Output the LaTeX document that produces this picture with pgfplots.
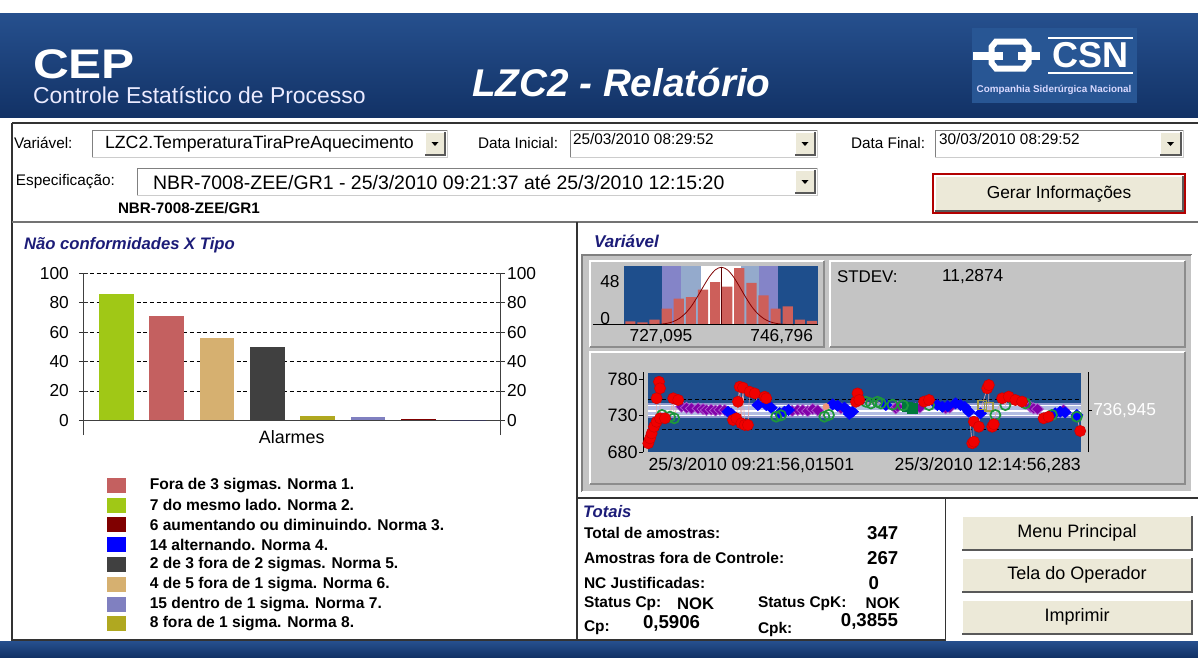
\documentclass[border=0pt]{standalone}
\usepackage{fontspec}
\setmainfont{Liberation Sans}
\usepackage{pgfplots}
\pgfplotsset{compat=1.18}
\definecolor{hdrtop}{RGB}{38,80,142}
\definecolor{hdrbot}{RGB}{18,50,102}
\definecolor{navy}{RGB}{28,28,120}
\definecolor{panelgrey}{RGB}{196,196,196}
\definecolor{btnfill}{RGB}{236,233,216}
\definecolor{cblue}{RGB}{30,78,140}
\definecolor{cN1}{RGB}{196,96,96}
\definecolor{cN2}{RGB}{160,200,22}
\definecolor{cN3}{RGB}{128,0,0}
\definecolor{cN4}{RGB}{0,0,255}
\definecolor{cN5}{RGB}{64,64,64}
\definecolor{cN6}{RGB}{214,176,112}
\definecolor{cN7}{RGB}{128,128,192}
\definecolor{cN8}{RGB}{176,168,32}
\definecolor{hlav}{RGB}{132,132,200}
\definecolor{hsteel}{RGB}{148,170,204}
\definecolor{histbar}{RGB}{205,95,90}
\definecolor{cred}{RGB}{240,0,0}
\definecolor{cpurple}{RGB}{130,0,170}
\definecolor{cpurpleb}{RGB}{175,95,205}
\definecolor{cgreen}{RGB}{30,150,60}
\definecolor{colive}{RGB}{165,155,70}
\definecolor{cdkgreen}{RGB}{0,120,60}
\definecolor{csalmon}{RGB}{240,150,120}
\definecolor{ctrace}{RGB}{230,165,165}
\definecolor{band1}{RGB}{140,150,205}
\definecolor{band2}{RGB}{178,188,226}
\definecolor{logobg}{RGB}{40,86,148}
\newcommand{\fs}[1]{\fontsize{#1}{#1}\selectfont}
\newcommand{\field}[4]{%
  \fill[white] (#1,#2) rectangle (#3,#4);
  \draw[black!50, line width=0.75pt] (#1,#4) -- (#1,#2) -- (#3,#2);
  \draw[black!20, line width=0.75pt] (#3,#2) -- (#3,#4) -- (#1,#4);}
\newcommand{\btn}[4]{%
  \fill[btnfill] (#1,#2) rectangle (#3,#4);
  \draw[white, line width=0.75pt] (#1,#4) -- (#1,#2) -- (#3,#2);
  \draw[black!65, line width=1pt] (#3,#2) -- (#3,#4) -- (#1,#4);}
\newcommand{\raisedbox}[4]{%
  \fill[panelgrey] (#1,#2) rectangle (#3,#4);
  \draw[white, line width=0.9pt] (#1,#4) -- (#1,#2) -- (#3,#2);
  \draw[black!45, line width=0.9pt] (#3,#2) -- (#3,#4) -- (#1,#4);}
\newcommand{\arrowdown}[2]{\fill[black] ({#1-3.5},{#2-1.5}) -- ({#1+3.5},{#2-1.5}) -- (#1,{#2+2.5}) -- cycle;}
\begin{document}
\begin{tikzpicture}
\useasboundingbox (0,0) rectangle (898.5pt,-492.75pt);
\begin{scope}[x=0.75pt,y=-0.75pt, every node/.style={inner sep=0pt, outer sep=0pt}]
% background
\fill[white] (0,0) rectangle (1198,657);
\shade[top color=hdrtop, bottom color=hdrbot] (0,13) rectangle (1198,117);
\shade[top color=hdrtop, bottom color=hdrbot] (0,641) rectangle (1198,657);
% header texts
\node[anchor=base west, white, font=\bfseries\fs{31}] at (33,78.3) {\scalebox{1.2}[1]{CEP}};
\node[anchor=base west, white!92!blue, font=\fs{17.2}] at (33,103.3) {Controle Estatístico de Processo};
\node[anchor=base west, white, font=\bfseries\itshape\fs{29}] at (472,96.7) {LZC2 - Relatório};
% logo
\fill[logobg] (972,28) rectangle (1137,103);
\draw[white, line width=4.5pt] (996,41.5) -- (1024,41.5) -- (1028.5,47) -- (1028.5,63) -- (1024,68.5) -- (996,68.5) -- (991.5,63) -- (991.5,47) -- cycle;
\fill[white] (973,51.5) rectangle (1003,59.5);
\fill[white] (1018,51.5) rectangle (1040,59.5);
\fill[logobg] (1003,47) rectangle (1017,64);
\fill[white] (1048,36.5) rectangle (1133,39);
\fill[white] (1048,71.5) rectangle (1133,74);
\node[anchor=center, white, font=\bfseries\fs{27}] at (1090.5,55.5) {CSN};
\node[anchor=center, white!85!blue, font=\bfseries\fs{7.4}] at (1054,90) {Companhia Siderúrgica Nacional};
% frames
\draw[black!80, line width=0.9pt] (12,123) -- (1198,123);
\draw[black!80, line width=0.9pt] (12,123) -- (12,640) -- (577,640);
\draw[black!55, line width=1.6pt] (12,222) -- (1198,222);
\draw[black!80, line width=0.9pt] (577,222) -- (577,640) -- (945.7,640) -- (945.7,498);
\draw[black!80, line width=0.9pt] (577,498) -- (1198,498);
% top controls
\node[anchor=west, font=\fs{11.5}] at (14,143) {Variável:};
\field{92}{130}{447}{157}
\btn{425}{132}{445}{155}\arrowdown{435}{143.5}
\node[anchor=west, font=\fs{13.3}] at (105,143.5) {LZC2.TemperaturaTiraPreAquecimento};
\node[anchor=west, font=\fs{11.5}] at (478,143) {Data Inicial:};
\field{570}{130}{817}{157}
\btn{795}{132}{815}{155}\arrowdown{805}{143.5}
\node[anchor=west, font=\fs{11.5}] at (573,139.5) {25/03/2010 08:29:52};
\node[anchor=west, font=\fs{11.5}] at (851,143) {Data Final:};
\field{935}{130}{1183}{157}
\btn{1160}{132}{1181}{155}\arrowdown{1170.5}{143.5}
\node[anchor=west, font=\fs{11.5}] at (939,139.5) {30/03/2010 08:29:52};
\node[anchor=west, font=\fs{11.5}] at (16,182) {Especificação:};
\field{137}{168}{817}{195}
\btn{795}{170}{815}{193}\arrowdown{805}{181.5}
\node[anchor=west, font=\fs{14.6}] at (153,182) {NBR-7008-ZEE/GR1 - 25/3/2010 09:21:37 até 25/3/2010 12:15:20};
\node[anchor=west, font=\bfseries\fs{11.4}] at (118,208) {NBR-7008-ZEE/GR1};
\draw[red!70!black, line width=0.9pt] (933,174) rectangle (1185,213);
\btn{935}{176}{1183}{211}
\node[anchor=center, font=\fs{13}] at (1059,194) {Gerar Informações};
% left panel
\node[anchor=west, navy, font=\bfseries\itshape\fs{12.5}] at (24,245) {Não conformidades X Tipo};
\foreach \c/\txt [count=\i from 0] in {cN1/Fora de 3 sigmas. Norma 1., cN2/7 do mesmo lado. Norma 2., cN3/6 aumentando ou diminuindo. Norma 3., cN4/14 alternando. Norma 4., cN5/2 de 3 fora de 2 sigmas. Norma 5., cN6/4 de 5 fora de 1 sigma. Norma 6., cN7/15 dentro de 1 sigma. Norma 7., cN8/8 fora de 1 sigma. Norma 8.}{
  \fill[\c] (106.5,{477.8+19.81*\i}) rectangle (125.5,{492.8+19.81*\i});
  \node[anchor=west, font=\bfseries\fs{11.7}] at (149.8,{485.3+19.81*\i}) {\txt};
}
% right panel
\node[anchor=west, navy, font=\bfseries\itshape\fs{12.8}] at (594,241.7) {Variável};
\fill[panelgrey] (582,255) rectangle (1192,492);
\draw[black!50, line width=0.9pt] (582,492) -- (582,255) -- (1192,255);
\draw[white, line width=0.9pt] (1192,255) -- (1192,492) -- (582,492);
\raisedbox{590}{261}{824}{347}
\raisedbox{830}{261}{1185}{347}
\raisedbox{590}{352}{1185}{484}
\node[anchor=west, font=\fs{12.7}] at (837,276.7) {STDEV:};
\node[anchor=west, font=\fs{13}] at (942,276.7) {11,2874};
% totais
\node[anchor=west, navy, font=\bfseries\itshape\fs{12.5}] at (583,511.7) {Totais};
\node[anchor=west, font=\bfseries\fs{11.6}] at (584,533.3) {Total de amostras:};
\node[anchor=east, font=\bfseries\fs{14}] at (898.3,533) {347};
\node[anchor=west, font=\bfseries\fs{11.6}] at (584,558.3) {Amostras fora de Controle:};
\node[anchor=east, font=\bfseries\fs{14}] at (898.3,558) {267};
\node[anchor=west, font=\bfseries\fs{11.6}] at (584,583.3) {NC Justificadas:};
\node[anchor=west, font=\bfseries\fs{14}] at (868.6,583) {0};
\node[anchor=west, font=\bfseries\fs{11.6}] at (584,604) {Status Cp:};
\node[anchor=west, font=\bfseries\fs{12.5}] at (677,604) {NOK};
\node[anchor=west, font=\bfseries\fs{11.6}] at (758,603.5) {Status CpK:};
\node[anchor=east, font=\bfseries\fs{11.6}] at (900,603.5) {NOK};
\node[anchor=west, font=\bfseries\fs{11.6}] at (584,628) {Cp:};
\node[anchor=west, font=\bfseries\fs{14}] at (643,623) {0,5906};
\node[anchor=west, font=\bfseries\fs{11.6}] at (758,629) {Cpk:};
\node[anchor=east, font=\bfseries\fs{14}] at (898,621.5) {0,3855};
% buttons
\btn{962}{516}{1192}{550}
\node[anchor=center, font=\fs{13.5}] at (1077,533) {Menu Principal};
\btn{962}{558}{1192}{592}
\node[anchor=center, font=\fs{13.5}] at (1077,575) {Tela do Operador};
\btn{962}{600}{1192}{634}
\node[anchor=center, font=\fs{13.5}] at (1077,617) {Imprimir};
\end{scope}

% ---------------- bar chart ----------------
\begin{axis}[
  at={(62.4pt,-326.25pt)}, anchor=south west,
  scale only axis, width=312.75pt, height=121.275pt,
  xmin=-0.66, xmax=7.63, ymin=-10, ymax=100,
  axis line style={draw=none},
  xtick=\empty, ytick={0,20,40,60,80,100},
  tick align=center, major tick length=6.6pt,
  tick style={black!80, line width=0.6pt},
  ymajorgrids, major grid style={black, dash pattern=on 3pt off 2pt, line width=0.6pt},
  yticklabel style={font=\fs{13}, anchor=east, inner sep=0pt, xshift=-7.3pt},
  /pgf/number format/assume math mode=true,
  clip=false,
]
\draw[black!75, line width=0.9pt] (axis cs:-0.66,0) -- (axis cs:7.63,0);
\draw[black!75, line width=0.9pt] (rel axis cs:0,0) -- (rel axis cs:0,1);
\draw[black!75, line width=0.9pt] (rel axis cs:1,0) -- (rel axis cs:1,1);
\addplot[ybar, bar width=26.1pt, bar shift=0pt, fill=cN2, draw=none] coordinates {(0,86)};
\addplot[ybar, bar width=26.1pt, bar shift=0pt, fill=cN1, draw=none] coordinates {(1,71)};
\addplot[ybar, bar width=26.1pt, bar shift=0pt, fill=cN6, draw=none] coordinates {(2,56)};
\addplot[ybar, bar width=26.1pt, bar shift=0pt, fill=cN5, draw=none] coordinates {(3,50)};
\addplot[ybar, bar width=26.1pt, bar shift=0pt, fill=cN8, draw=none] coordinates {(4,3)};
\addplot[ybar, bar width=26.1pt, bar shift=0pt, fill=cN7, draw=none] coordinates {(5,2)};
\addplot[ybar, bar width=26.1pt, bar shift=0pt, fill=cN3, draw=none] coordinates {(6,1)};
\addplot[ybar, bar width=26.1pt, bar shift=0pt, fill=cN4, draw=none] coordinates {(7,0)};
\node[font=\fs{13.4}, anchor=center, inner sep=0pt] at (rel axis cs:0.5,0) [yshift=-1.5pt] {Alarmes};
\end{axis}
\begin{axis}[
  at={(62.4pt,-326.25pt)}, anchor=south west,
  scale only axis, width=312.75pt, height=121.275pt,
  xmin=-0.66, xmax=7.63, ymin=-10, ymax=100,
  axis line style={draw=none},
  xtick=\empty, ytick={0,20,40,60,80,100},
  major tick length=0pt, yticklabel pos=right,
  yticklabel style={font=\fs{13}, anchor=west, inner sep=0pt, xshift=5pt},
  /pgf/number format/assume math mode=true,
]
\end{axis}

% ---------------- histogram ----------------
\begin{axis}[
  at={(468.225pt,-243.525pt)}, anchor=south west,
  scale only axis, width=145.275pt, height=43.8pt,
  xmin=0.5, xmax=16.5, ymin=0, ymax=54.6,
  axis line style={draw=none}, major tick length=0pt,
  axis background/.style={fill=cblue},
  xtick={3.53,13.5}, xticklabels={{727,095},{746,796}},
  ytick={6.2,40.6}, yticklabels={0,48},
  xticklabel style={font=\fs{13}, anchor=north, inner sep=0pt, yshift=-3.5pt},
  yticklabel style={font=\fs{13}, anchor=west, inner sep=0pt, xshift=-18.2pt},
  clip=false,
]
\fill[hlav] (axis cs:3.58,0) rectangle (axis cs:13.19,54.6);
\fill[hsteel] (axis cs:5.22,0) rectangle (axis cs:11.6,54.6);
\fill[white] (axis cs:6.82,0) rectangle (axis cs:10.17,54.6);
\addplot[ybar, bar width=0.84, bar shift=0pt, fill=histbar, draw=none] coordinates {
 (1,3.1) (2,2.2) (3,4.7) (4,15.0) (5,24.3) (6,25.9) (7,32.8) (8,39.9)
 (9,35.6) (10,53.0) (11,39.0) (12,27.5) (13,15.0) (14,17.2) (15,4.7) (16,3.7)};
\addplot[cN3, line width=0.6pt, smooth] coordinates {
 (2.52,0.07) (3.02,0.2) (3.52,0.5) (4.02,1.3) (4.52,2.8) (5.02,5.7) (5.52,10.3)
 (6.02,17.0) (6.52,25.8) (7.02,35.5) (7.52,44.7) (8.02,51.3) (8.52,53.7)
 (9.02,51.3) (9.52,44.7) (10.02,35.5) (10.52,25.8) (11.02,17.0) (11.52,10.3)
 (12.02,5.7) (12.52,2.8) (13.02,1.3) (13.52,0.5) (14.02,0.2) (14.52,0.07)};
\draw[cN3!70!black, line width=0.6pt] (axis cs:8.52,0) -- (axis cs:8.52,53.7);
\draw[black, line width=0.9pt] (rel axis cs:-0.16,0) -- (rel axis cs:1,0);
\end{axis}

% ---------------- control chart ----------------
\begin{axis}[
  at={(482.475pt,-339.225pt)}, anchor=south west,
  scale only axis, width=333.75pt, height=60.45pt,
  xmin=-4.01, xmax=353.3, ymin=680, ymax=790,
  axis line style={draw=none}, xtick=\empty, ytick={680,730,780},
  ytick pos=left, tick align=outside, major tick length=3pt,
  tick style={black, line width=0.6pt},
  yticklabel style={font=\fs{13.5}, anchor=east, inner sep=0pt, xshift=-1pt},
  /pgf/number format/assume math mode=true,
  clip=false,
]
\fill[cblue] (axis cs:0,680) rectangle (axis cs:347.4,787.8);
\fill[band1] (axis cs:0,727) rectangle (axis cs:347.4,747);
\fill[band2] (axis cs:0,731) rectangle (axis cs:347.4,743);
\draw[white, line width=0.8pt] (axis cs:0,744.3) -- (axis cs:347.4,744.3);
\draw[white, line width=0.8pt] (axis cs:0,729.6) -- (axis cs:347.4,729.6);
\draw[white, line width=1.5pt] (axis cs:0,736.945) -- (axis cs:347.4,736.945);
\draw[black, dash pattern=on 3pt off 2pt, line width=0.8pt] (axis cs:0,751.5) -- (axis cs:347.4,751.5);
\draw[black, dash pattern=on 3pt off 2pt, line width=0.8pt] (axis cs:0,710.5) -- (axis cs:347.4,710.5);
\draw[black, line width=0.7pt] (rel axis cs:0,0) -- (rel axis cs:0,1);
\draw[black, line width=0.9pt] (rel axis cs:1,0) -- (rel axis cs:1,1);
\draw[black, line width=0.6pt] (axis cs:353.3,736.945) -- ([xshift=3pt]axis cs:353.3,736.945);
\node[anchor=west, white, font=\fs{13}, inner sep=0pt] at (axis cs:353.3,736.945) [xshift=3.5pt] {736,945};
\node[anchor=west, font=\fs{13.2}, inner sep=0pt] at (axis cs:0,680) [yshift=-9.5pt] {25/3/2010 09:21:56,01501};
\node[anchor=east, font=\fs{13.2}, inner sep=0pt] at (axis cs:347.4,680) [yshift=-9.5pt] {25/3/2010 12:14:56,283};
% trace
\addplot[ctrace, line width=0.5pt, mark=none] coordinates {
(0,692.3) (1.4,699.1) (2.7,705.9) (4.6,714.9) (6.7,721.7) (6.7,753.7) (8.6,776.3) (9.4,767.3)
(9.4,726.4) (11.0,731.0) (13.4,726.4) (17.4,728.6) (20.0,753.7) (20.8,726.4) (24.0,751.4)
(26.7,742.2) (30.7,740.8) (34.7,739.9) (40.0,739.9) (44.0,739.0) (46.7,737.7) (61.4,737.7)
(64.0,735.4) (66.5,733.0) (68.0,724.1) (70.7,726.4) (72.0,749.0) (73.4,769.5) (74.7,719.6)
(76.0,768.2) (77.4,717.3) (80.0,717.3) (81.4,762.7) (85.4,760.4) (88.0,744.5) (93.4,755.9)
(94.7,753.7) (94.7,744.5) (98.7,740.8) (102.7,728.6) (109.4,735.4) (112.6,737.7) (120.0,737.7)
(124.0,737.7) (128.0,736.3) (132.0,739.0) (141.4,728.6) (142.7,742.2) (148.0,745.4) (152.0,743.6)
(154.7,739.9) (161.4,732.4) (164.0,735.4) (166.7,749.0) (168.0,760.4) (169.4,751.4) (174.7,749.0)
(178.7,746.7) (184.0,749.0) (186.7,746.8) (190.7,744.5) (198.7,739.9) (200.1,742.2) (208.1,742.2)
(212.1,740.0) (214.7,740.0) (221.4,749.2) (225.4,751.4) (225.4,744.5) (232.1,744.5) (236.1,742.2)
(238.7,740.0) (246.7,746.8) (250.7,744.5) (257.4,735.4) (260.1,692.3) (261.4,694.5) (261.4,721.8)
(265.4,714.9) (266.7,733.2) (268.1,744.5) (272.1,767.3) (273.4,771.8) (273.4,742.2) (276.1,714.9)
(277.4,718.3) (278.7,730.9) (284.1,753.7) (286.7,744.5) (289.4,756.0) (294.7,751.4) (300.1,749.2)
(302.7,746.8) (306.7,742.2) (309.4,740.0) (317.4,726.4) (321.4,728.6) (324.1,730.9) (326.7,733.2)
(330.7,735.4) (333.4,737.7) (334.7,734.5) (344.1,730.9) (344.1,728.6) (346.8,709.1)};
% purple diamonds
\addplot[only marks, mark=diamond*, mark size=4.2pt, mark options={xscale=1.45, fill=cpurple, draw=cpurpleb, line width=0.5pt}] coordinates {
(26.7,742.2) (30.7,740.8) (34.7,739.9) (40.0,739.9) (44.0,739.0) (46.7,737.7) (50.5,738.2) (54.0,737.0) (57.5,738.0) (61.4,737.7)
(115.5,736.5) (120.0,737.7) (124.0,737.7) (128.0,736.3) (132.0,739.0) (136.0,737.2) (154.7,739.9) (198.7,739.9) (200.1,742.2)
(214.7,740.0) (218.0,741.0) (238.7,740.0) (242.0,741.0) (306.7,742.2) (309.4,740.0) (312.5,739.0) (333.4,737.7)};
% blue diamonds
\addplot[only marks, mark=diamond*, mark size=4.2pt, mark options={xscale=1.45, fill=cN4, draw=cN4}] coordinates {
(64.0,735.4) (66.5,733.0) (88.0,744.5) (94.7,744.5) (98.7,740.8) (105.5,733.5) (109.4,735.4) (112.6,737.7)
(148.0,745.4) (152.0,743.6) (157.5,741.0) (161.4,732.4) (164.0,735.4) (190.7,744.5) (232.1,744.5) (236.1,742.2)
(240.5,743.0) (246.7,746.8) (250.7,744.5) (254.0,742.0) (257.4,735.4) (266.7,733.2) (326.7,733.2) (330.7,735.4) (334.7,734.5)
(344.1,730.9)};
% olive squares
\addplot[only marks, mark=square, mark size=3.2pt, mark options={draw=colive, line width=1pt}] coordinates {
(268.1,744.5) (273.4,742.2)};
% dark green squares
\addplot[only marks, mark=square*, mark size=3.6pt, mark options={fill=cdkgreen, draw=cdkgreen}] coordinates {
(208.1,742.2) (212.1,740.0)};
% salmon
\addplot[only marks, mark=*, mark size=2.4pt, mark options={fill=csalmon, draw=csalmon}] coordinates {
(142.7,742.2)};
% green hollow circles
\addplot[only marks, mark=o, mark size=3.8pt, mark options={draw=cgreen, line width=1.3pt}] coordinates {
(11.0,731.0) (17.4,728.6) (20.8,726.4) (102.7,728.6) (106.5,730.5) (141.4,728.6) (145.0,731.0) (174.7,749.0) (178.7,746.7)
(184.0,749.0) (186.7,746.8) (196.0,745.0) (204.5,744.0) (225.4,744.5) (278.7,730.9) (286.7,744.5) (302.7,746.8) (324.1,730.9)
(344.1,728.6)};
% red circles
\addplot[only marks, mark=*, mark size=4.2pt, mark options={fill=cred, draw=cred!85!black, line width=0.4pt}] coordinates {
(0,692.3) (1.4,699.1) (2.7,705.9) (4.6,714.9) (6.7,721.7) (9.4,726.4) (13.4,726.4) (6.7,753.7)
(8.6,776.3) (9.4,767.3) (20.0,753.7) (24.0,751.4) (68.0,724.1) (70.7,726.4) (74.7,719.6)
(77.4,717.3) (80.0,717.3) (72.0,749.0) (73.4,769.5) (76.0,768.2) (81.4,762.7) (85.4,760.4)
(93.4,755.9) (94.7,753.7) (166.7,749.0) (168.0,760.4) (169.4,751.4) (221.4,749.2) (225.4,751.4)
(260.1,692.3) (261.4,694.5) (261.4,721.8) (265.4,714.9) (272.1,767.3) (273.4,771.8) (276.1,714.9)
(277.4,718.3) (284.1,753.7) (289.4,756.0) (294.7,751.4) (300.1,749.2) (317.4,726.4) (321.4,728.6)
(346.8,709.1)};
\end{axis}
\end{tikzpicture}
\end{document}
